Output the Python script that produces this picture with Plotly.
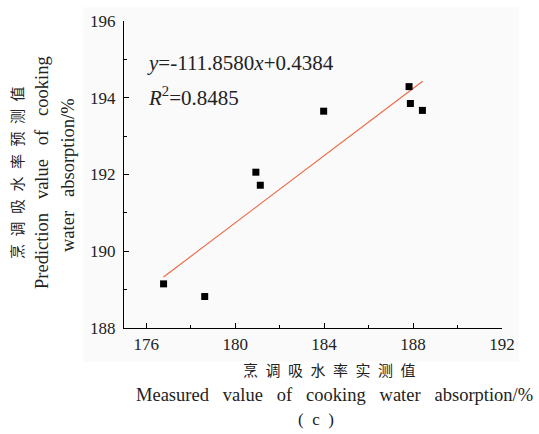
import plotly.graph_objects as go

measured = [176.78, 178.63, 180.93, 181.13, 183.98, 187.82, 187.88, 188.42]
predicted = [189.15, 188.82, 192.06, 191.72, 193.65, 194.29, 193.85, 193.67]
fit_x = [176.78, 188.43]
fit_y = [189.33, 194.43]

x_ticks = [176, 180, 184, 188, 192]
x_minor = [178, 182, 186, 190]
y_ticks = [188, 190, 192, 194, 196]
y_minor = [189, 191, 193, 195]

equation = "<i>y</i>=-111.8580<i>x</i>+0.4384"
r2_text = "<i>R</i><sup>2</sup>=0.8485"
x_title_cn = "\u2002".join("烹调吸水率实测值")
y_title_cn = "\u2002".join("烹调吸水率预测值")
gap = "\u2002\u2005"
x_title_en = gap.join(["Measured", "value", "of", "cooking", "water", "absorption/%"])
y_title_en1 = gap.join(["Prediction", "value", "of", "cooking"])
y_title_en2 = gap.join(["water", "absorption/%"])
panel = "(\u2002c\u2002)"

SERIF = "Liberation Serif, Times New Roman, serif"
CJK = "Noto Sans CJK SC"
TXT = "#222222"

# pixel layout helpers
L, R, T, B = 124, 502, 17, 328
W, H = 539, 434
def px(x):
    return (x - L) / (R - L)
def py(y):
    return (B - y) / (B - T)

fig = go.Figure()
fig.add_trace(go.Scatter(x=fit_x, y=fit_y, mode="lines",
                         line=dict(color="#ee6440", width=1.1),
                         showlegend=False, hoverinfo="skip"))
fig.add_trace(go.Scatter(x=measured, y=predicted, mode="markers",
                         marker=dict(symbol="square", size=7, color="black"),
                         showlegend=False))

axis_common = dict(showline=True, linecolor="black", linewidth=1.3,
                   ticks="inside", ticklen=5, tickwidth=1.2, tickcolor="black",
                   showgrid=False, zeroline=False, mirror=False,
                   tickfont=dict(family=SERIF, size=17, color=TXT))
fig.update_xaxes(range=[175, 192], tickvals=x_ticks, ticktext=[str(v) for v in x_ticks],
                 minor=dict(tickvals=x_minor, ticks="inside", ticklen=3, tickwidth=1.2,
                            tickcolor="black", showgrid=False),
                 ticklabelstandoff=0, **axis_common)
fig.update_yaxes(range=[188, 196], tickvals=y_ticks, ticktext=[str(v) for v in y_ticks],
                 minor=dict(tickvals=y_minor, ticks="inside", ticklen=3, tickwidth=1.2,
                            tickcolor="black", showgrid=False),
                 ticklabelstandoff=4, **axis_common)

ann = []
ann.append(dict(text=equation, x=px(145), y=py(60), xref="paper", yref="paper",
                xanchor="left", yanchor="middle", showarrow=False,
                font=dict(family=SERIF, size=21, color=TXT)))
ann.append(dict(text=r2_text, x=px(146), y=py(93), xref="paper", yref="paper",
                xanchor="left", yanchor="middle", showarrow=False,
                font=dict(family=SERIF, size=21, color=TXT)))
ann.append(dict(text=y_title_cn, x=px(16), y=py(171), xref="paper", yref="paper",
                xanchor="center", yanchor="middle", textangle=-90, showarrow=False,
                font=dict(family=CJK, size=15, color=TXT)))
ann.append(dict(text=y_title_en1, x=px(42), y=py(171), xref="paper", yref="paper",
                xanchor="center", yanchor="middle", textangle=-90, showarrow=False,
                font=dict(family=SERIF, size=18.5, color=TXT)))
ann.append(dict(text=y_title_en2, x=px(68), y=py(173), xref="paper", yref="paper",
                xanchor="center", yanchor="middle", textangle=-90, showarrow=False,
                font=dict(family=SERIF, size=18.5, color=TXT)))
ann.append(dict(text=x_title_cn, x=px(329), y=py(370), xref="paper", yref="paper",
                xanchor="center", yanchor="middle", showarrow=False,
                font=dict(family=CJK, size=15, color=TXT)))
ann.append(dict(text=x_title_en, x=px(334), y=py(396), xref="paper", yref="paper",
                xanchor="center", yanchor="middle", showarrow=False,
                font=dict(family=SERIF, size=18.5, color=TXT)))
ann.append(dict(text=panel, x=px(316), y=py(421), xref="paper", yref="paper",
                xanchor="center", yanchor="middle", showarrow=False,
                font=dict(family=SERIF, size=17, color=TXT)))

fig.update_layout(
    width=W, height=H,
    margin=dict(l=L, r=W - R, t=T, b=H - B, pad=0),
    paper_bgcolor="white", plot_bgcolor="rgba(0,0,0,0)",
    annotations=ann,
    shapes=[dict(type="rect", xref="paper", yref="paper",
                 x0=px(83), x1=px(519), y0=py(362), y1=py(3),
                 fillcolor="#fafafa", line=dict(width=0), layer="below")],
    showlegend=False,
)

fig.write_html("out.html", config={"displayModeBar": False},
               post_script="document.body.style.margin='0';document.body.style.overflow='hidden';")
